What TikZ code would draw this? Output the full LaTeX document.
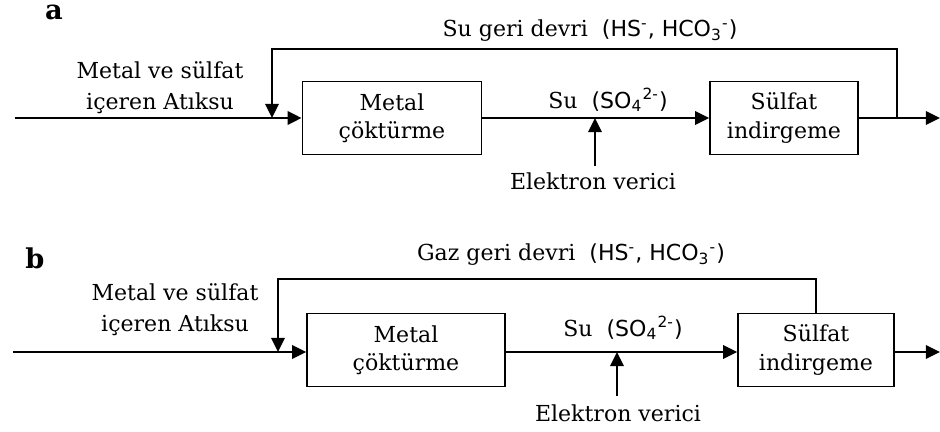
\documentclass[tikz,border=0pt]{standalone}
\usepackage{fontspec}
\setmainfont{DejaVu Serif}
\newfontfamily\ionfont{DejaVu Sans}
\usetikzlibrary{positioning,arrows.meta}

% ions written in the sans face
\newcommand{\recions}{{\ionfont(HS\textsuperscript{-}, HCO\textsubscript{3}\textsuperscript{-})}}
\newcommand{\sulfion}{{\ionfont(SO\textsubscript{4}\textsuperscript{2-})}}

\begin{document}
\begin{tikzpicture}[x=0.44pt, y=-0.44pt,
  box/.style={draw, line width=0.7pt, align=center, inner sep=1pt, minimum height=32pt, minimum width=#1, font=\fontsize{9.7}{12.4}\selectfont},
  box/.default=70pt,
  arrow/.style={-{Triangle[length=6.2pt, width=5.8pt]}, line width=1.3pt},
  lbl/.style={align=center, font=\fontsize{9.7}{13.6}\selectfont, inner sep=1pt},
  panel/.style={font=\fontsize{12}{13}\selectfont\bfseries, inner sep=0pt}]
  \useasboundingbox (0,0) rectangle (940,432);

  % (a) water recycle
  \node[panel] (pa) at (54,12) {a};
  \node[box=78.8pt] (ma) at (392,118) {Metal\\çöktürme};
  \node[box=65.1pt] (sa) at (784,118) {Sülfat\\indirgeme};
  \node[lbl] (wa) at (160,88) {Metal ve sülfat\\içeren Atıksu};
  \node[lbl] (ga) at (590,31) {Su geri devri~~\recions};
  \node[lbl] (qa) at (608,100) {Su~~\sulfion};
  \node[lbl] (ea) at (593,181) {Elektron verici};
  \coordinate (ia) at (15,118);
  \coordinate (oa) at (940,118);
  \coordinate (ra) at (897,118);
  \coordinate (ka) at (272,49);
  \coordinate (fa) at (272,118);
  \coordinate (da) at (595,166);
  \draw[arrow] (ia) -- (ma);
  \draw[arrow] (ma) -- (sa);
  \draw[arrow] (sa) -- (oa);
  \draw[arrow] (ra) |- (ka) -- (fa);
  \draw[arrow] (da) -- (da |- ma);

  % (b) gas recycle
  \node[panel] (pb) at (35,258) {b};
  \node[box=87.1pt] (mb) at (406,350) {Metal\\çöktürme};
  \node[box=68.6pt] (sb) at (816,350) {Sülfat\\indirgeme};
  \node[lbl] (wb) at (175,310) {Metal ve sülfat\\içeren Atıksu};
  \node[lbl] (gb) at (571,255) {Gaz geri devri~~\recions};
  \node[lbl] (qb) at (623,328) {Su~~\sulfion};
  \node[lbl] (eb) at (618,413) {Elektron verici};
  \coordinate (ib) at (13,352);
  \coordinate (ob) at (940,352);
  \coordinate (kb) at (278,279);
  \coordinate (fb) at (278,352);
  \coordinate (db) at (617,396);
  \draw[arrow] (ib) -- (ib -| mb.west);
  \draw[arrow] (mb.east |- ib) -- (sb.west |- ib);
  \draw[arrow] (sb.east |- ib) -- (ob);
  \draw[arrow] (sb.north) |- (kb) -- (fb);
  \draw[arrow] (db) -- (db |- ib);
\end{tikzpicture}
\end{document}
